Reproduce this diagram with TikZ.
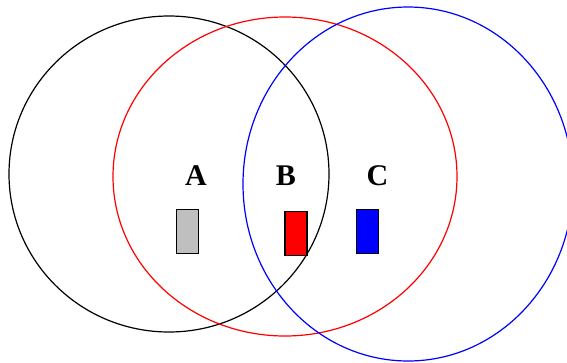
\documentclass[tikz,border=0pt]{standalone}
\usepackage{fontspec}
\setmainfont{Liberation Serif}
\usetikzlibrary{shapes.geometric}

\begin{document}
\begin{tikzpicture}[
  x=1pt, y=-1pt,
  ring/.style={ellipse, draw, line width=1.2pt, inner sep=0pt},
  lbl/.style={font=\fontsize{30}{30}\selectfont\bfseries, inner sep=0pt},
  bar/.style={rectangle, draw=black, line width=1.6pt, inner sep=0pt,
              minimum width=22pt, minimum height=44pt}
]
%% frame (pixel coordinates of the reference)
\useasboundingbox (0,0) rectangle (567,362);
\clip (0,0) rectangle (567,362);
%% the three circles
\node[ring, draw=black, minimum width=320pt, minimum height=316pt] (c_a) at (169,174) {};
\node[ring, draw=red,   minimum width=344pt, minimum height=319pt] (c_b) at (285,176.5) {};
\node[ring, draw=blue,  minimum width=330pt, minimum height=354pt] (c_c) at (408,184) {};
%% labels
\node[lbl] (l_a) at (196,175.5) {A};
\node[lbl] (l_b) at (286,175.5) {B};
\node[lbl] (l_c) at (377.5,175.5) {C};
%% markers
\node[bar, fill=black!25] (m_a) at (187.5,231.5) {};
\node[bar, fill=red]      (m_b) at (296,233.5) {};
\node[bar, fill=blue]     (m_c) at (367.5,231.5) {};
\end{tikzpicture}
\end{document}
